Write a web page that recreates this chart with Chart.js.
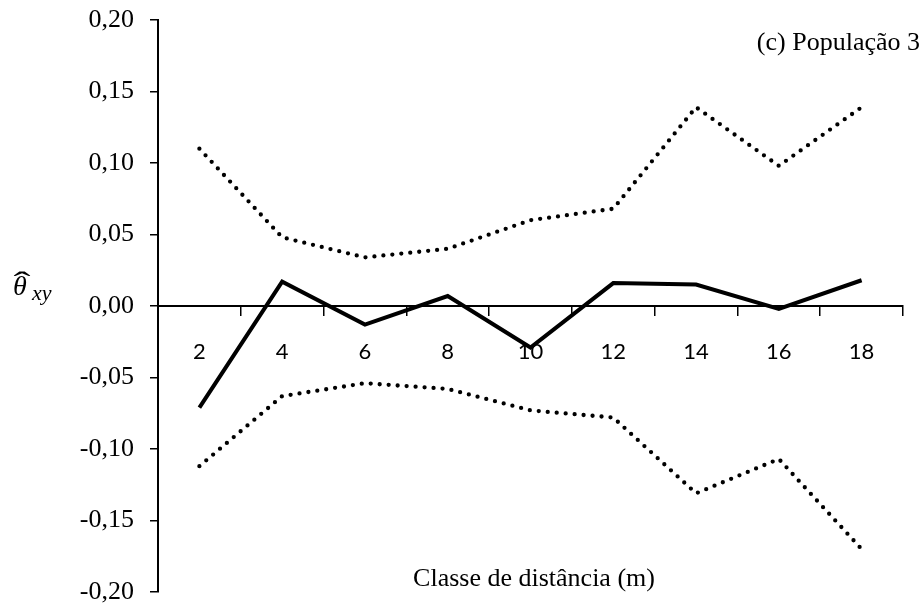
<!DOCTYPE html>
<html>
<head>
<meta charset="utf-8">
<script src="https://cdn.jsdelivr.net/npm/chart.js@4.4.1/dist/chart.umd.min.js"></script>
<style>
  html, body { margin: 0; padding: 0; background: #fff; }
</style>
</head>
<body>
<canvas id="chart" width="922" height="605"></canvas>
<script>
// classes de distância (m)
const classes = ['2', '4', '6', '8', '10', '12', '14', '16', '18'];
// coeficiente de coancestria estimado
const thetaXY = [-0.071, 0.017, -0.013, 0.007, -0.029, 0.016, 0.015, -0.002, 0.018];
// limites do intervalo de confiança
const upperCI = [0.110, 0.048, 0.034, 0.040, 0.060, 0.068, 0.139, 0.098, 0.139];
const lowerCI = [-0.112, -0.063, -0.054, -0.058, -0.073, -0.078, -0.131, -0.107, -0.170];
const yMin = -0.20, yMax = 0.20, yStep = 0.05;

const panelTitle = '(c) População 3';
const xTitle = 'Classe de distância (m)';

const serif = '"Liberation Serif", "Times New Roman", serif';

const fmt = v => (Math.abs(v) < 1e-9 ? 0 : v).toFixed(2).replace('.', ',');

// textos fixos: título do painel, título do eixo x e rótulo θ̂xy
const textPlugin = {
    id: 'textos',
    afterDraw(chart) {
        const { ctx, chartArea } = chart;
        ctx.save();
        ctx.fillStyle = '#000';
        ctx.textBaseline = 'alphabetic';

        ctx.font = '26px ' + serif;
        ctx.textAlign = 'right';
        ctx.fillText(panelTitle, chartArea.right + 17, 50);

        ctx.textAlign = 'center';
        ctx.fillText(xTitle, 534, 586);

        ctx.textAlign = 'left';
        ctx.font = 'italic 28px ' + serif;
        ctx.fillText('\u03B8', 13, 295);
        // chapéu largo sobre o θ
        ctx.save();
        ctx.translate(22, 292);
        ctx.scale(1.7, 1);
        ctx.font = '30px ' + serif;
        ctx.textAlign = 'center';
        ctx.fillText('\u02C6', 0, 0);
        ctx.restore();
        ctx.font = 'italic 22px ' + serif;
        ctx.fillText('xy', 32, 300);
        ctx.restore();
    }
};

new Chart(document.getElementById('chart'), {
    type: 'line',
    data: {
        labels: classes,
        datasets: [
            { label: 'θxy', data: thetaXY, borderColor: '#000', borderWidth: 4, pointRadius: 0, tension: 0 },
            { label: 'Limite superior', data: upperCI, borderColor: '#000', borderWidth: 4.3, borderDash: [0, 9], borderCapStyle: 'round', pointRadius: 0, tension: 0 },
            { label: 'Limite inferior', data: lowerCI, borderColor: '#000', borderWidth: 4.3, borderDash: [0, 9], borderCapStyle: 'round', pointRadius: 0, tension: 0 }
        ]
    },
    options: {
        responsive: false,
        animation: false,
        layout: { padding: { left: 0, right: 19, top: 20, bottom: 13 } },
        plugins: { legend: { display: false }, tooltip: { enabled: false } },
        scales: {
            x: {
                type: 'category',
                position: { y: 0 },
                offset: true,
                afterFit(scale) { scale.paddingLeft = 0; scale.paddingRight = 0; },
                grid: { offset: true, drawOnChartArea: false, drawTicks: true, tickLength: 9, color: '#000', lineWidth: 1.5 },
                border: { display: true, color: '#000', width: 2 },
                ticks: { color: '#000', font: { family: 'Lato', size: 22 }, padding: 24, maxRotation: 0, autoSkip: false }
            },
            y: {
                min: yMin,
                max: yMax,
                afterFit(scale) { scale.width = 158; scale.paddingTop = 0; scale.paddingBottom = 0; },
                grid: { drawOnChartArea: false, drawTicks: true, tickLength: 8, color: '#000', lineWidth: 1.5 },
                border: { display: true, color: '#000', width: 2 },
                ticks: { stepSize: yStep, color: '#000', font: { family: serif, size: 26 }, padding: 16, callback: v => fmt(v) }
            }
        }
    },
    plugins: [textPlugin]
});
</script>
</body>
</html>
